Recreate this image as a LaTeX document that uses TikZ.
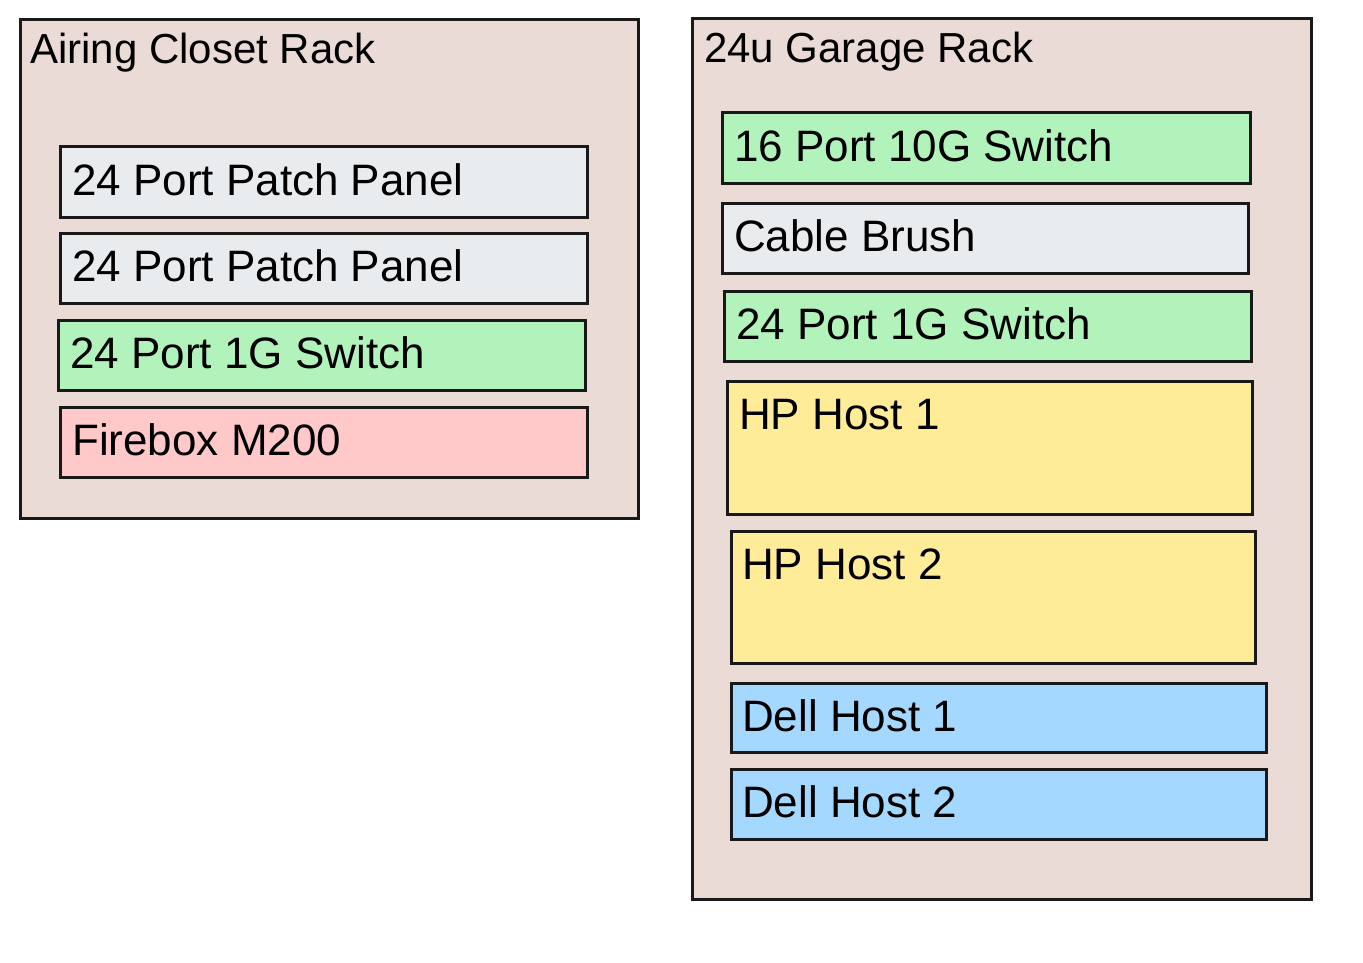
\documentclass[tikz,border=0pt]{standalone}
\usepackage{fontspec}
\setmainfont{Liberation Sans}
\definecolor{rack}{HTML}{EADBD7}
\definecolor{gry}{HTML}{E9ECEF}
\definecolor{grn}{HTML}{B2F2BB}
\definecolor{rd}{HTML}{FFC9C9}
\definecolor{yl}{HTML}{FFEC99}
\definecolor{bl}{HTML}{A5D8FF}
\tikzset{
 box/.style={draw=black!90,line width=3pt},
 lbl/.style={anchor=west,inner sep=0pt,font=\fontsize{44}{50}\selectfont},
 ttl/.style={anchor=west,inner sep=0pt,font=\fontsize{42}{48}\selectfont},
}
\begin{document}
\begin{tikzpicture}[x=1pt,y=-1pt]
\useasboundingbox[fill=white] (0,0) rectangle (1363,963);
\draw[box,fill=rack] (20,20) rectangle (638,518);
\node[ttl] (t1) at (30,53) {Airing Closet Rack};
\draw[box,fill=gry] (60,147) rectangle (587,217);
\node[lbl] (a1) at (72,180) {24 Port Patch Panel};
\draw[box,fill=gry] (60,233) rectangle (587,303);
\node[lbl] (a2) at (72,266) {24 Port Patch Panel};
\draw[box,fill=grn] (58,320) rectangle (585,390);
\node[lbl] (a3) at (70,353) {24 Port 1G Switch};
\draw[box,fill=rd] (60,407) rectangle (587,477);
\node[lbl] (a4) at (72,440) {Firebox M200};

\draw[box,fill=rack] (692,19) rectangle (1311,899);
\node[ttl] (t2) at (704,52) {24u Garage Rack};
\draw[box,fill=grn] (722,113) rectangle (1250,183);
\node[lbl] (b1) at (734,146) {16 Port 10G Switch};
\draw[box,fill=gry] (722,203) rectangle (1248,273);
\node[lbl] (b2) at (734,236) {Cable Brush};
\draw[box,fill=grn] (724,291) rectangle (1251,361);
\node[lbl] (b3) at (736,324) {24 Port 1G Switch};
\draw[box,fill=yl] (727,381) rectangle (1252,514);
\node[lbl] (b4) at (739,415) {HP Host 1};
\draw[box,fill=yl] (731,531) rectangle (1255,663);
\node[lbl] (b5) at (742,564) {HP Host 2};
\draw[box,fill=bl] (731,683) rectangle (1266,752);
\node[lbl] (b6) at (742,716) {Dell Host 1};
\draw[box,fill=bl] (731,769) rectangle (1266,839);
\node[lbl] (b7) at (742,802) {Dell Host 2};
\end{tikzpicture}
\end{document}
